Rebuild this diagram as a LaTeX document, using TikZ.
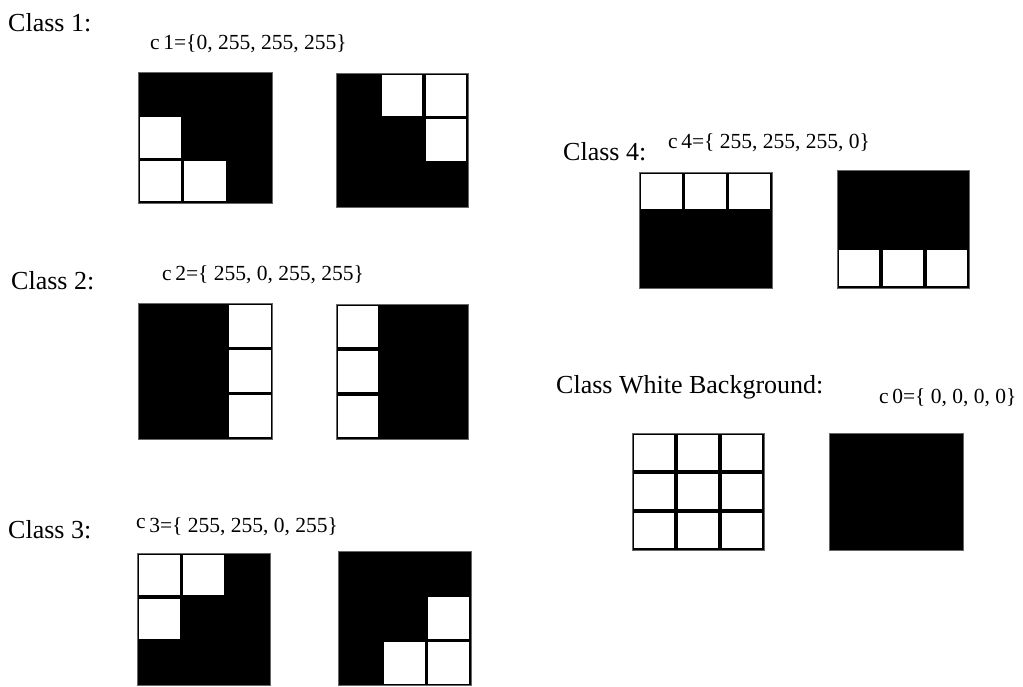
\documentclass[tikz,border=0pt]{standalone}
\usepackage{fontspec}
\setmainfont{Liberation Serif}
\usetikzlibrary{positioning, calc}

\begin{document}
\begin{tikzpicture}[
    x=1pt, y=-1pt,
    classlabel/.style={anchor=west, inner sep=0pt, font=\fontsize{26}{30}\selectfont},
    codelabel/.style={anchor=west, inner sep=0pt, font=\fontsize{21.5}{26}\selectfont},
    tile/.style={fill=black, draw=black!60, line width=0.7pt},
    cell/.style={fill=white}
]
\useasboundingbox (0,0) rectangle (1023,687);

% Labels
\node[classlabel] (class1) at (8,23) {Class 1:};
\node[classlabel] (class2) at (11,281) {Class 2:};
\node[classlabel] (class3) at (8,530) {Class 3:};
\node[classlabel] (class4) at (563,152) {Class 4:};
\node[classlabel] (class0) at (556,387) {Class White Background:};

\node[codelabel] (code1) at (150,44) {c\,1=\{0, 255, 255, 255\}};
\node[codelabel] (code2) at (162,275) {c\,2=\{ 255, 0, 255, 255\}};
\node[codelabel] (code3) at (136,527) {\raisebox{4pt}{c}\,3=\{ 255, 255, 0, 255\}};
\node[codelabel] (code4) at (668,143) {c\,4=\{ 255, 255, 255, 0\}};
\node[codelabel] (code0) at (879,398) {c\,0=\{ 0, 0, 0, 0\}};

% Class 1 tiles
\begin{scope}[shift={(138,72)}, x=44.7pt, y=-43.7pt]
  \path[tile] (0,0) rectangle (3,3);
  \foreach \r/\c in {1/0, 2/0, 2/1}
    \fill[cell] ($(\c,\r)+(1.6pt,-1.6pt)$) rectangle ($(\c+1,\r+1)+(-1.6pt,1.6pt)$);
\end{scope}
\begin{scope}[shift={(336,73)}, x=44pt, y=-44.7pt]
  \path[tile] (0,0) rectangle (3,3);
  \foreach \r/\c in {0/1, 0/2, 1/2}
    \fill[cell] ($(\c,\r)+(1.6pt,-1.6pt)$) rectangle ($(\c+1,\r+1)+(-1.6pt,1.6pt)$);
\end{scope}

% Class 2 tiles
\begin{scope}[shift={(138,303)}, x=44.7pt, y=-45.3pt]
  \path[tile] (0,0) rectangle (3,3);
  \foreach \r/\c in {0/2, 1/2, 2/2}
    \fill[cell] ($(\c,\r)+(1.6pt,-1.6pt)$) rectangle ($(\c+1,\r+1)+(-1.6pt,1.6pt)$);
\end{scope}
\begin{scope}[shift={(336,304)}, x=44pt, y=-45pt]
  \path[tile] (0,0) rectangle (3,3);
  \foreach \r/\c in {0/0, 1/0, 2/0}
    \fill[cell] ($(\c,\r)+(1.6pt,-1.6pt)$) rectangle ($(\c+1,\r+1)+(-1.6pt,1.6pt)$);
\end{scope}

% Class 3 tiles
\begin{scope}[shift={(137,553)}, x=44.3pt, y=-44pt]
  \path[tile] (0,0) rectangle (3,3);
  \foreach \r/\c in {0/0, 0/1, 1/0}
    \fill[cell] ($(\c,\r)+(1.6pt,-1.6pt)$) rectangle ($(\c+1,\r+1)+(-1.6pt,1.6pt)$);
\end{scope}
\begin{scope}[shift={(338,551)}, x=44.3pt, y=-44.7pt]
  \path[tile] (0,0) rectangle (3,3);
  \foreach \r/\c in {1/2, 2/1, 2/2}
    \fill[cell] ($(\c,\r)+(1.6pt,-1.6pt)$) rectangle ($(\c+1,\r+1)+(-1.6pt,1.6pt)$);
\end{scope}

% Class 4 tiles
\begin{scope}[shift={(639,172)}, x=44.3pt, y=-38.7pt]
  \path[tile] (0,0) rectangle (3,3);
  \foreach \r/\c in {0/0, 0/1, 0/2}
    \fill[cell] ($(\c,\r)+(1.6pt,-1.6pt)$) rectangle ($(\c+1,\r+1)+(-1.6pt,1.6pt)$);
\end{scope}
\begin{scope}[shift={(837,170)}, x=44pt, y=-39.3pt]
  \path[tile] (0,0) rectangle (3,3);
  \foreach \r/\c in {2/0, 2/1, 2/2}
    \fill[cell] ($(\c,\r)+(1.6pt,-1.6pt)$) rectangle ($(\c+1,\r+1)+(-1.6pt,1.6pt)$);
\end{scope}

% White background tiles
\begin{scope}[shift={(632,433)}, x=44pt, y=-39pt]
  \path[tile] (0,0) rectangle (3,3);
  \foreach \r in {0,1,2}
    \foreach \c in {0,1,2}
      \fill[cell] ($(\c,\r)+(1.6pt,-1.6pt)$) rectangle ($(\c+1,\r+1)+(-1.6pt,1.6pt)$);
\end{scope}
\begin{scope}[shift={(829,433)}, x=44.7pt, y=-39pt]
  \path[tile] (0,0) rectangle (3,3);
\end{scope}

\end{tikzpicture}
\end{document}
